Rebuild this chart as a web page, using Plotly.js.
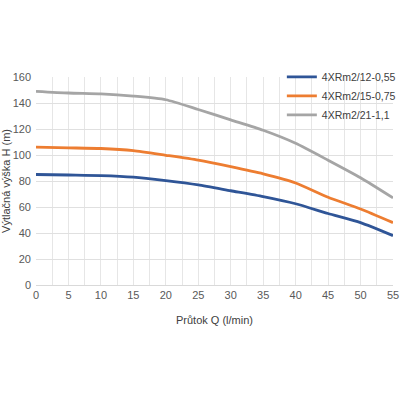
<!DOCTYPE html>
<html>
<head>
<meta charset="utf-8">
<script src="https://cdn.plot.ly/plotly-3.0.1.min.js"></script>
<style>
  html, body { margin: 0; padding: 0; background: #fff; }
  #chart { width: 400px; height: 400px; }
</style>
</head>
<body>
<div id="chart"></div>
<script>
// Pump head curves: flow Q (l/min) vs. discharge head H (m)
const flowQ = [0, 5, 10, 15, 20, 25, 30, 35, 40, 45, 50, 55];
const head12 = [85, 84.6, 84.2, 83, 80.3, 77, 72.5, 68, 62.5, 55, 48, 38];
const head15 = [106, 105.5, 105, 103.4, 99.8, 96, 91, 85.5, 78.5, 67.5, 58.5, 48];
const head21 = [149, 147.7, 147, 145.3, 142.5, 135, 127, 119, 109, 96, 82.5, 67];
const seriesNames = ['4XRm2/12-0,55', '4XRm2/15-0,75', '4XRm2/21-1,1'];
const seriesColors = ['#2f5597', '#ed7d31', '#a5a5a5'];

const heads = [head12, head15, head21];
const traces = heads.map((h, i) => ({
  x: flowQ,
  y: h,
  name: seriesNames[i],
  type: 'scatter',
  mode: 'lines',
  line: { color: seriesColors[i], width: 2.8, shape: 'spline', smoothing: 0.6 }
}));

const fontFamily = 'Liberation Sans, Arial, sans-serif';
const tickFont = { family: fontFamily, size: 11, color: '#595959' };

const layout = {
  width: 400,
  height: 400,
  margin: { l: 36, r: 7, t: 77, b: 115, autoexpand: false },
  paper_bgcolor: '#ffffff',
  plot_bgcolor: '#ffffff',
  showlegend: true,
  legend: {
    x: 1.022, xanchor: 'right', y: 1.07, yanchor: 'top',
    bgcolor: 'rgba(255,255,255,0)',
    font: { family: fontFamily, size: 10.5, color: '#404040' },
    tracegroupgap: 0,
    itemwidth: 30
  },
  xaxis: {
    range: [0, 55],
    tickmode: 'array',
    tickvals: flowQ,
    ticktext: flowQ.map(String),
    showgrid: true,
    gridcolor: '#e6e6e6',
    gridwidth: 1,
    minor: { dtick: 2.5, tick0: 0, showgrid: true, gridcolor: '#e6e6e6', gridwidth: 1, ticks: '' },
    zeroline: false,
    showline: true,
    linecolor: '#d9d9d9',
    ticks: '',
    tickfont: tickFont,
    title: { text: 'Průtok Q (l/min)', font: { family: fontFamily, size: 11, color: '#404040' }, standoff: 16 }
  },
  yaxis: {
    range: [0, 160],
    dtick: 20,
    showgrid: true,
    gridcolor: '#e0e0e0',
    gridwidth: 1,
    zeroline: false,
    showline: false,
    ticks: '',
    tickfont: tickFont,
    ticklabelstandoff: 4,
    title: { text: 'Výtlačná výška H (m)', font: { family: fontFamily, size: 11, color: '#404040' }, standoff: 2 }
  }
};

Plotly.newPlot('chart', traces, layout, { staticPlot: true, displayModeBar: false });
</script>
</body>
</html>
